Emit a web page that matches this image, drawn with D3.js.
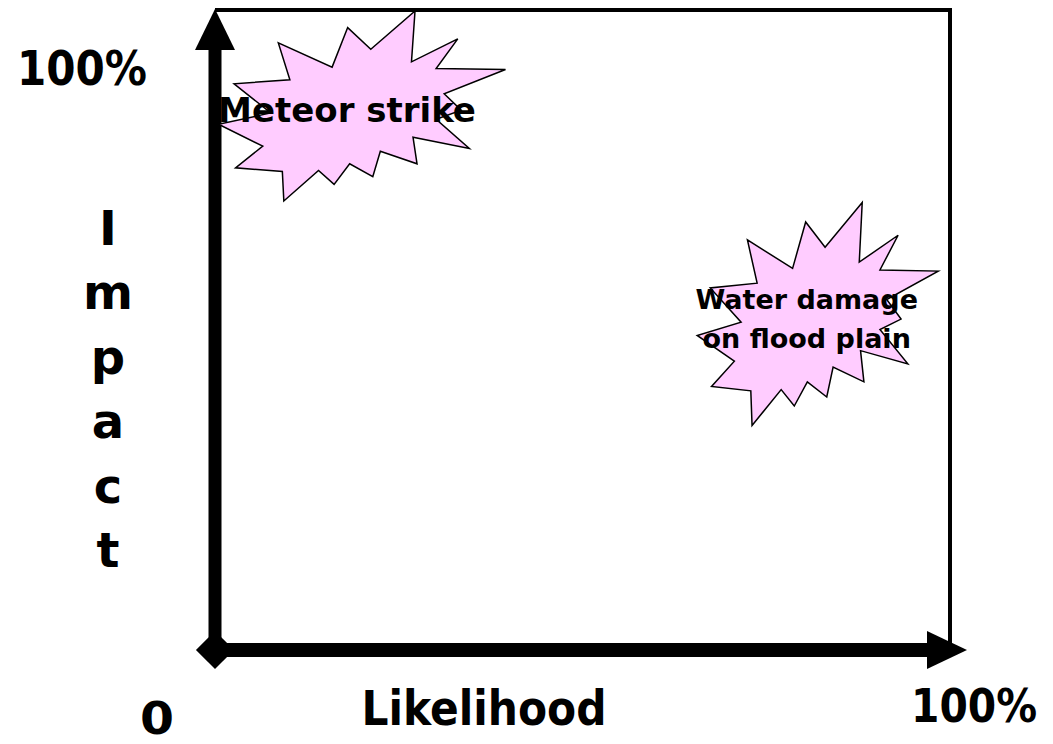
<!DOCTYPE html>
<html>
<head>
<meta charset="utf-8">
<script src="https://cdn.jsdelivr.net/npm/d3@7"></script>
<style>
  body { margin: 0; background: #fff; }
  text { font-family: 'DejaVu Sans', sans-serif; font-weight: bold; fill: #000; }
</style>
</head>
<body>
<script>
const largura = 1053
const altura = 744

// riscos: nome (linhas), probabilidade %, impacto %
const riscos = [['Meteor strike'], ['Water damage', 'on flood plain']]
const probabilidade = [20, 82]
const impacto = [85, 52.5]

const rotuloOrigem = '0'
const rotuloMaximo = '100%'
const tituloX = 'Likelihood'
const tituloY = 'Impact'

// forma "Explosion 2" (irregularSeal2) numa caixa 21600 x 21600
const explosao = [[11462, 4342], [14790, 0], [14525, 5777], [18007, 3172],
  [16380, 6532], [21600, 6645], [16985, 9402], [18270, 11290], [16380, 12310],
  [18877, 15632], [14640, 14350], [14942, 17370], [12180, 15935], [11612, 18842],
  [9872, 17370], [8700, 19712], [7527, 18125], [4917, 21600], [4805, 18240],
  [1285, 17825], [3330, 15370], [0, 12877], [3935, 11592], [1172, 8270],
  [5372, 7817], [4502, 3625], [8550, 6382], [9722, 1887]]

const tamanhos = [{w: 287, h: 190, fonte: 34, dx: -15, dy: [16]},
                  {w: 241, h: 223, fonte: 27, dx: -11, dy: [-5.5, 33.5]}]

var x = d3.scaleLinear().domain([0, 100]).range([215, 950])
var y = d3.scaleLinear().domain([0, 100]).range([650, 10])

var svg = d3.select('body')
            .append('svg')
              .attr('width', largura)
              .attr('height', altura)

// moldura fina (topo e direita)
svg.append('path')
    .attr('d', d3.line()([[x(0), y(100)], [x(100), y(100)], [x(100), y(0)]]))
    .attr('fill', 'none')
    .attr('stroke', '#000')
    .attr('stroke-width', 4)

// eixos grossos
svg.append('line')
    .attr('x1', x(0)).attr('y1', y(0))
    .attr('x2', x(0)).attr('y2', y(100) + 40)
    .attr('stroke', '#000')
    .attr('stroke-width', 13)

svg.append('line')
    .attr('x1', x(0)).attr('y1', y(0))
    .attr('x2', x(100) - 23).attr('y2', y(0))
    .attr('stroke', '#000')
    .attr('stroke-width', 14)

// pontas das setas
svg.append('path')
    .attr('d', d3.line()([[x(0), y(100) - 1], [x(0) + 20, y(100) + 40], [x(0) - 20, y(100) + 40]]) + 'Z')
    .attr('fill', '#000')

svg.append('path')
    .attr('d', d3.line()([[x(100) + 17, y(0)], [x(100) - 23, y(0) - 19], [x(100) - 23, y(0) + 19]]) + 'Z')
    .attr('fill', '#000')

svg.append('path')
    .attr('d', d3.symbol(d3.symbolSquare, 729)())
    .attr('transform', 'translate(' + x(0) + ',' + y(0) + ') rotate(45)')
    .attr('fill', '#000')

// explosoes
var escalaForma = d3.scaleLinear().domain([0, 21600]).range([-0.5, 0.5])

var grupos = svg.selectAll('g.risco')
                .data(riscos)
                .enter()
                .append('g')
                  .attr('class', 'risco')
                  .attr('transform', function (d, i) {
                    return 'translate(' + x(probabilidade[i]) + ',' + y(impacto[i]) + ')'
                  })

grupos.append('path')
    .attr('d', function (d, i) {
      var t = tamanhos[i]
      return d3.line()(explosao.map(function (p) {
        return [escalaForma(p[0]) * t.w, escalaForma(p[1]) * t.h]
      })) + 'Z'
    })
    .attr('fill', '#ffccff')
    .attr('stroke', '#000')
    .attr('stroke-width', 1.5)

grupos.each(function (linhas, i) {
  var t = tamanhos[i]
  var g = d3.select(this)
  linhas.forEach(function (linha, j) {
    g.append('text')
      .attr('x', t.dx)
      .attr('y', t.dy[j])
      .attr('text-anchor', 'middle')
      .style('font-size', t.fonte + 'px')
      .text(linha)
  })
})

// rotulos dos eixos
svg.append('text')
    .attr('x', 82).attr('y', 85)
    .attr('text-anchor', 'middle')
    .attr('textLength', 130)
    .attr('lengthAdjust', 'spacingAndGlyphs')
    .style('font-size', '48px')
    .text(rotuloMaximo)

svg.append('text')
    .attr('x', 974).attr('y', 722)
    .attr('text-anchor', 'middle')
    .attr('textLength', 126)
    .attr('lengthAdjust', 'spacingAndGlyphs')
    .style('font-size', '46px')
    .text(rotuloMaximo)

svg.append('text')
    .attr('x', 157).attr('y', 734)
    .attr('text-anchor', 'middle')
    .attr('textLength', 34)
    .attr('lengthAdjust', 'spacingAndGlyphs')
    .style('font-size', '44px')
    .text(rotuloOrigem)

svg.append('text')
    .attr('x', 484).attr('y', 725)
    .attr('text-anchor', 'middle')
    .attr('textLength', 245)
    .attr('lengthAdjust', 'spacingAndGlyphs')
    .style('font-size', '48px')
    .text(tituloX)

svg.append('text')
    .attr('text-anchor', 'middle')
    .style('font-size', '48px')
    .selectAll('tspan')
    .data(tituloY.split(''))
    .enter()
    .append('tspan')
      .attr('x', 108)
      .attr('y', function (d, i) { return 245 + i * 64.4 })
      .text(function (d) { return d })
</script>
</body>
</html>
